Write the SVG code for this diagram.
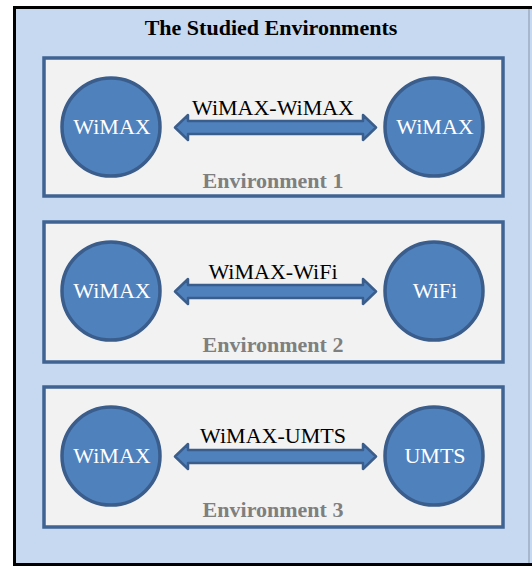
<svg xmlns="http://www.w3.org/2000/svg" width="532" height="567" viewBox="0 0 532 567">
<defs>
<style>
text{font-family:'Liberation Serif','Times New Roman',Times,'DejaVu Serif',serif;font-size:22px;text-anchor:middle}
.panel{fill:#F2F2F2;stroke:#3F6392;stroke-width:3.5}
.node{fill:#4F81BD;stroke:#3A5D8C;stroke-width:3.5}
.arrow{fill:#4F81BD;stroke:#3A5D8C;stroke-width:2.5;stroke-linejoin:round}
.ntext{fill:#FFFFFF}
.ltext{fill:#000000}
.etext{font-weight:bold;fill:#7F7F7F}
.title{font-weight:bold;fill:#000000}
</style>
</defs>
<rect x="0" y="0" width="532" height="567" fill="#FFFFFF"/>
<rect x="14.5" y="7.5" width="530" height="557" fill="#C6D9F0" stroke="#000000" stroke-width="3"/>
<line x1="529" y1="9" x2="529" y2="563" stroke="#8A97A8" stroke-width="1"/>
<text class="title" x="271" y="35">The Studied Environments</text>

<g id="env1">
<rect class="panel" x="44" y="58" width="459" height="138"/>
<text class="etext" x="273" y="188">Environment 1</text>
</g>
<g id="env2">
<rect class="panel" x="44" y="222" width="459" height="140"/>
<text class="etext" x="273" y="352">Environment 2</text>
</g>
<g id="env3">
<rect class="panel" x="44" y="387" width="459" height="140"/>
<text class="etext" x="273" y="517">Environment 3</text>
</g>

<g id="n1a"><circle class="node" cx="111" cy="127" r="49"/><text class="ntext" x="112" y="134">WiMAX</text></g>
<g id="n1b"><circle class="node" cx="434" cy="127" r="49"/><text class="ntext" x="435" y="134">WiMAX</text></g>
<g id="n2a"><circle class="node" cx="111" cy="291" r="49"/><text class="ntext" x="112" y="298">WiMAX</text></g>
<g id="n2b"><circle class="node" cx="434" cy="291" r="49"/><text class="ntext" x="435" y="298">WiFi</text></g>
<g id="n3a"><circle class="node" cx="111" cy="456" r="49"/><text class="ntext" x="112" y="463">WiMAX</text></g>
<g id="n3b"><circle class="node" cx="434" cy="456" r="49"/><text class="ntext" x="435" y="463">UMTS</text></g>

<g id="connectors">
<polygon class="arrow" points="175,127.5 188,115 188,121 363,121 363,115 376,127.5 363,140 363,134 188,134 188,140"/>
<text class="ltext" x="273" y="115">WiMAX-WiMAX</text>
<polygon class="arrow" points="175,291.5 188,279 188,285 363,285 363,279 376,291.5 363,304 363,298 188,298 188,304"/>
<text class="ltext" x="273" y="279">WiMAX-WiFi</text>
<polygon class="arrow" points="175,456.5 188,444 188,450 363,450 363,444 376,456.5 363,469 363,463 188,463 188,469"/>
<text class="ltext" x="273" y="443">WiMAX-UMTS</text>
</g>
</svg>
